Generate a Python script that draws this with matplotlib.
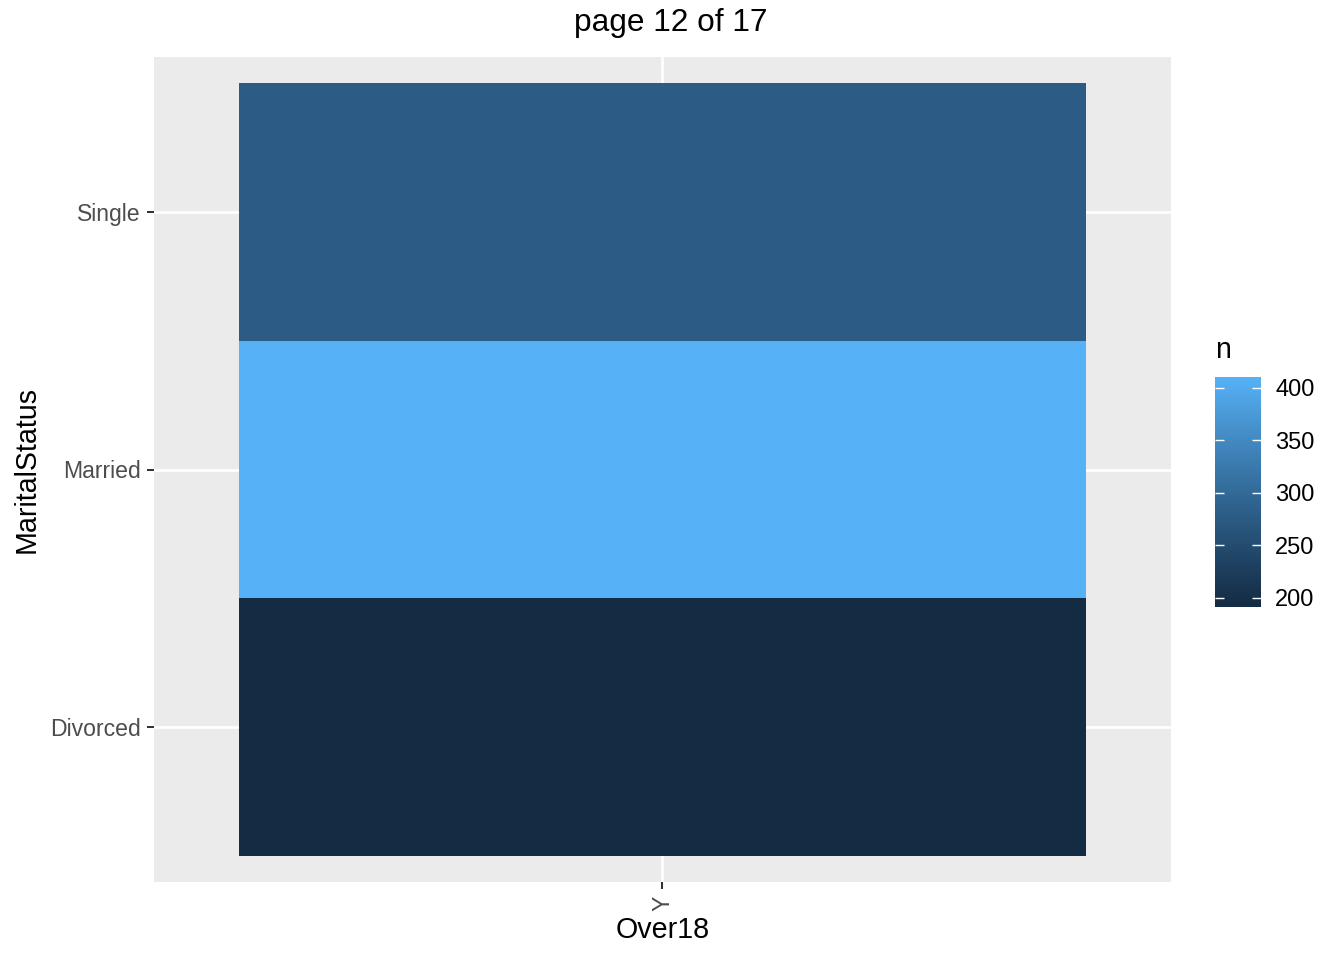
import numpy as np
import matplotlib
matplotlib.use('Agg')
import matplotlib.pyplot as plt
from matplotlib.colors import ListedColormap, Normalize

plt.rcParams['font.family'] = ['Liberation Sans', 'DejaVu Sans']

# data
over18 = ['Y']
marital = ['Divorced', 'Married', 'Single']
counts = [191, 410, 277]
legend_ticks = [200, 250, 300, 350, 400]


def hex2rgb(h):
    h = h.lstrip('#')
    return np.array([int(h[i:i + 2], 16) / 255 for i in (0, 2, 4)])


def rgb2lab(c):
    c = np.where(c > 0.04045, ((c + 0.055) / 1.055) ** 2.4, c / 12.92)
    m = np.array([[0.4124, 0.3576, 0.1805],
                  [0.2126, 0.7152, 0.0722],
                  [0.0193, 0.1192, 0.9505]])
    xyz = m @ c / np.array([0.95047, 1.0, 1.08883])
    f = np.where(xyz > 0.008856, np.cbrt(xyz), 7.787 * xyz + 16 / 116)
    return np.array([116 * f[1] - 16, 500 * (f[0] - f[1]), 200 * (f[1] - f[2])])


def lab2rgb(lab):
    fy = (lab[0] + 16) / 116
    fx = fy + lab[1] / 500
    fz = fy - lab[2] / 200
    f = np.array([fx, fy, fz])
    xyz = np.where(f ** 3 > 0.008856, f ** 3, (f - 16 / 116) / 7.787)
    xyz = xyz * np.array([0.95047, 1.0, 1.08883])
    m = np.array([[3.2406, -1.5372, -0.4986],
                  [-0.9689, 1.8758, 0.0415],
                  [0.0557, -0.2040, 1.0570]])
    c = m @ xyz
    c = np.where(c > 0.0031308, 1.055 * np.clip(c, 0, None) ** (1 / 2.4) - 0.055, 12.92 * c)
    return np.clip(c, 0, 1)


# ggplot's default gradient, interpolated in Lab
lo, hi = rgb2lab(hex2rgb('#132B43')), rgb2lab(hex2rgb('#56B1F7'))
cols = [lab2rgb(lo + t * (hi - lo)) for t in np.linspace(0, 1, 256)]
cmap = ListedColormap(cols)
norm = Normalize(vmin=min(counts), vmax=max(counts))

fig = plt.figure(figsize=(1344 / 144, 960 / 144), dpi=144)
ax = fig.add_axes([154 / 1344, 78 / 960, 1017 / 1344, 825 / 960])
ax.set_facecolor('#EBEBEB')

xe = np.arange(len(over18) + 1) + 0.5
ye = np.arange(len(marital) + 1) + 0.5
z = np.array(counts).reshape(len(marital), len(over18))
ax.pcolormesh(xe, ye, z, cmap=cmap, norm=norm, zorder=2)

ax.set_xlim(0.4, len(over18) + 0.6)
ax.set_ylim(0.4, len(marital) + 0.6)
ax.set_xticks(range(1, len(over18) + 1))
ax.set_xticklabels(over18, rotation=90)
ax.set_yticks(range(1, len(marital) + 1))
ax.set_yticklabels(marital)
ax.grid(True, color='white', linewidth=1.3, zorder=0)
ax.set_axisbelow(True)
for s in ax.spines.values():
    s.set_visible(False)
ax.tick_params(length=3.6, width=1.0, color='#333333', labelcolor='#4D4D4D',
               labelsize=11.5, pad=3)
ax.set_xlabel('Over18', fontsize=14.3, va='center')
ax.set_ylabel('MaritalStatus', fontsize=14.3, va='center')
ax.xaxis.set_label_coords(0.5, (882 - 930) / 825)
ax.yaxis.set_label_coords((27 - 154) / 1017, 0.5)

fig.text(671 / 1344, 1 - 23 / 960, 'page 12 of 17', ha='center', va='center', fontsize=15.8)

cax = fig.add_axes([1215 / 1344, 353 / 960, 46 / 1344, 230 / 960])
sm = plt.cm.ScalarMappable(norm=norm, cmap=cmap)
cb = fig.colorbar(sm, cax=cax, ticks=legend_ticks)
cb.outline.set_visible(False)
cax.tick_params(direction='in', length=4.5, width=0.7, color='white', left=True,
                right=True, labelsize=11.8, labelcolor='black', pad=7)
fig.text(1215 / 1344, 1 - 350 / 960, 'n', ha='left', va='center', fontsize=14.3)

fig.savefig('out.png', dpi=144)
